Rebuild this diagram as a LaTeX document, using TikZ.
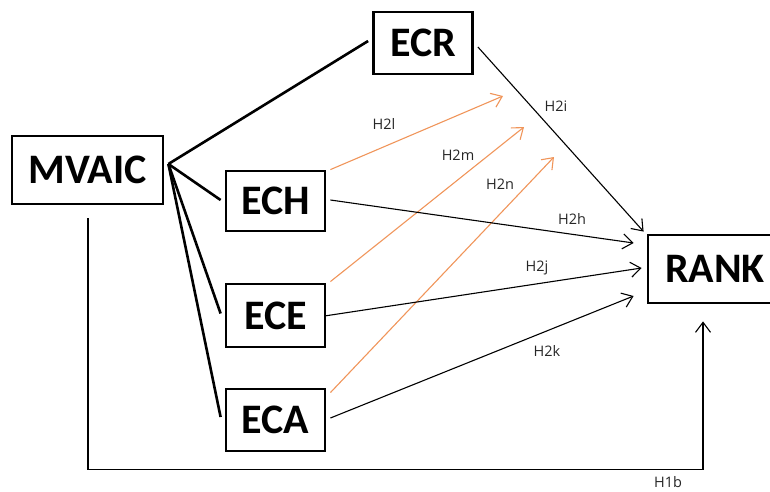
\documentclass[tikz,border=0pt]{standalone}
\usepackage{fontspec}
\setmainfont{Carlito}
\newfontfamily\lblfont{Open Sans}
\usetikzlibrary{arrows.meta}
\definecolor{hyporange}{HTML}{F0955A}
\tikzset{
  box/.style={draw, line width=2.8pt, inner sep=0pt, font=\fontsize{42}{42}\selectfont\bfseries},
  link/.style={line width=2.6pt},
  hyp/.style={line width=1.1pt, -{Straight Barb[length=10pt,width=15pt,line width=1.1pt]}},
  hypo/.style={hyp, draw=hyporange},
  lbl/.style={font=\lblfont\fontsize{14.5}{15}\selectfont, text=black!85, inner sep=0pt}
}
\begin{document}
\begin{tikzpicture}[x=1pt,y=-1pt]
\useasboundingbox (0,0) rectangle (770,491);
\begin{scope}
\clip (0,0) rectangle (770,491);
\node[box, minimum width=151pt, minimum height=68pt] (mvaic) at (87.5,170) {MVAIC};
\node[box, minimum width=99pt, minimum height=62pt] (ecr) at (423,43) {ECR};
\node[box, minimum width=99pt, minimum height=60pt] (ech) at (275.5,201) {ECH};
\node[box, minimum width=99pt, minimum height=63pt] (ece) at (275.5,315.5) {ECE};
\node[box, minimum width=99pt, minimum height=62pt] (eca) at (275.5,420) {ECA};
\node[box, minimum width=134pt, minimum height=68pt] (rank) at (715,269) {RANK};
\end{scope}

% thick links
\draw[link] ([shift={(4,-6)}]mvaic.east) -- ([shift={(-4,-2)}]ecr.west);
\draw[link] ([shift={(4,-6)}]mvaic.east) -- ([shift={(-4,-1)}]ech.west);
\draw[link] ([shift={(4,-6)}]mvaic.east) -- ([shift={(-4,-2)}]ece.west);
\draw[link] ([shift={(4,-6)}]mvaic.east) -- ([shift={(-4,-3)}]eca.west);

% orange arrows
\coordinate (o1) at (503,96);
\coordinate (o2) at (524,127);
\coordinate (o3) at (554,157);
\draw[hypo] ([shift={(4,0)}]ech.north east) -- (o1);
\draw[hypo] ([shift={(4,-1)}]ece.north east) -- (o2);
\draw[hypo] ([shift={(4,5)}]eca.north east) -- (o3);

% black arrows to RANK
\draw[hyp] ([shift={(4,4)}]ecr.east) -- ([shift={(-3,-2)}]rank.north west);
\draw[hyp] ([shift={(4,-1)}]ech.east) -- ([shift={(-13,-26)}]rank.west);
\draw[hyp] ([shift={(-2,0.5)}]ece.east) -- ([shift={(-5,-1)}]rank.west);
\draw[hyp] ([shift={(4,-2)}]eca.east) -- ([shift={(-13,27)}]rank.west);

% bottom path
\draw[hyp] ([shift={(0.5,13)}]mvaic.south) -- ++(0,251) -| ([shift={(-12,17)}]rank.south);

% labels
\node[lbl] (l1) at (384,124) {H2l};
\node[lbl] (l2) at (556,106) {H2i};
\node[lbl] (l3) at (458,155) {H2m};
\node[lbl] (l4) at (500,184) {H2n};
\node[lbl] (l5) at (572,219) {H2h};
\node[lbl] (l6) at (537,268) {H2j};
\node[lbl] (l7) at (547,351) {H2k};
\node[lbl] (l8) at (668,482) {H1b};
\end{tikzpicture}
\end{document}
